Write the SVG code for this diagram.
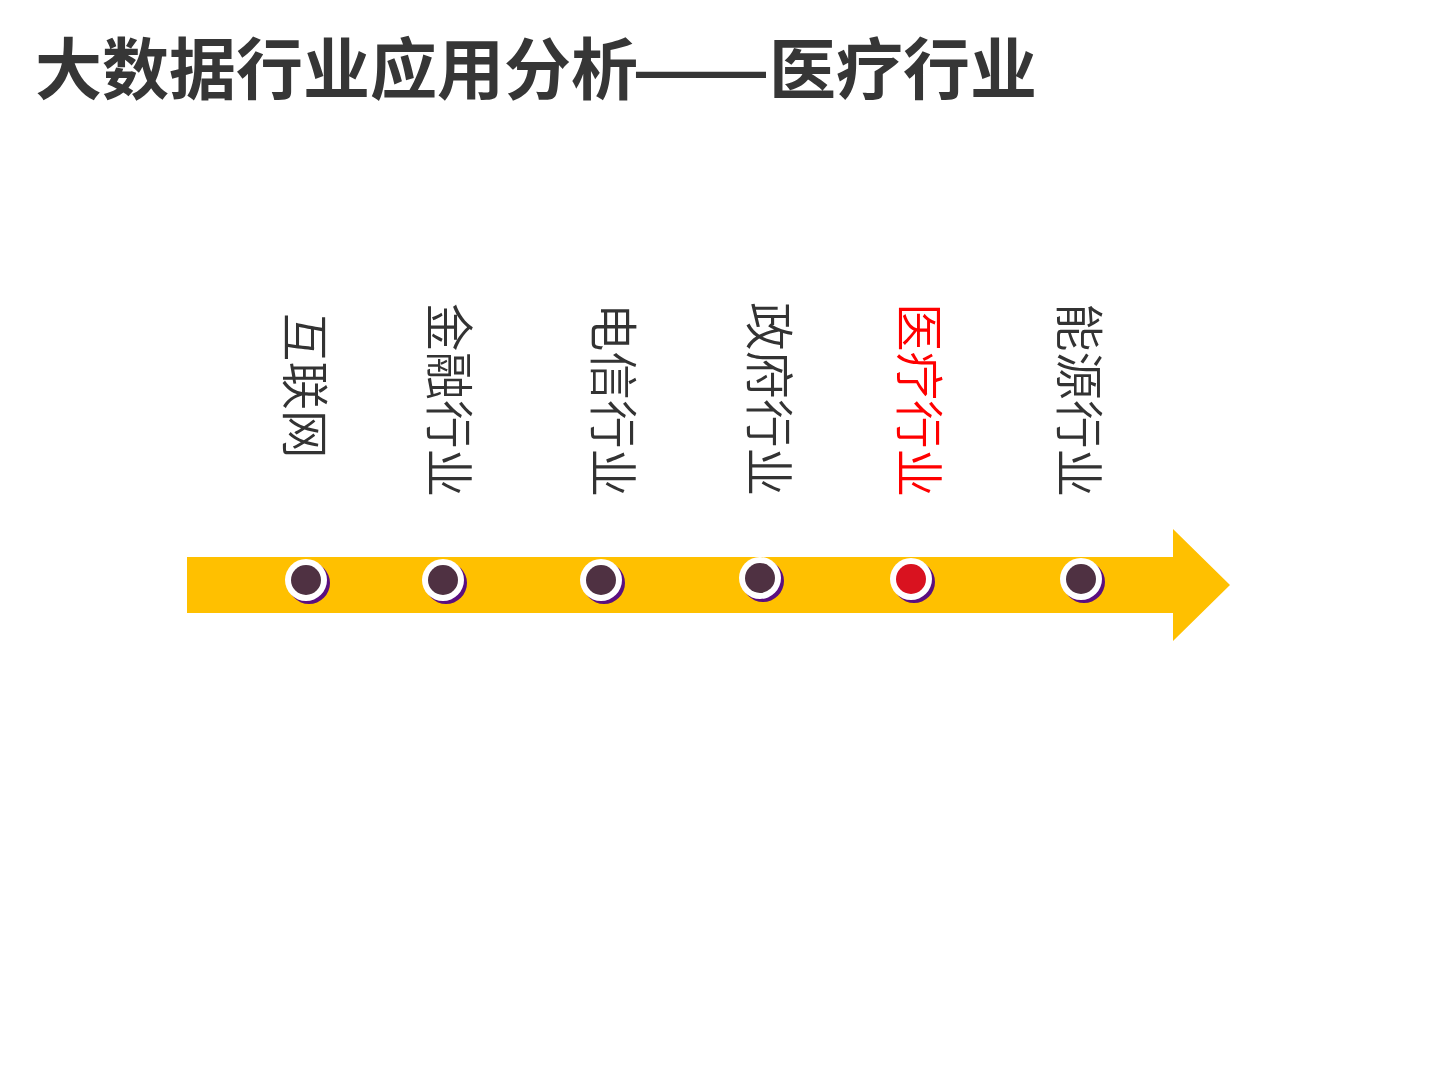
<svg xmlns="http://www.w3.org/2000/svg" width="1440" height="1080" viewBox="0 0 1440 1080">
<style>
.title{font-family:"Noto Sans CJK SC","Noto Sans",sans-serif;font-weight:bold;font-size:67px;fill:#363636}
.lbl{font-family:"Noto Sans CJK SC","Noto Sans",sans-serif;font-weight:350;font-size:48.5px;fill:#333333}
.red{fill:#ff0000}
.shadow{fill:#5a0f80}
.ring{fill:#ffffff}
.dot{fill:#4f3142}
.dotred{fill:#d9121f}
</style>
<defs>
<g id="marker">
<circle class="shadow" cx="3" cy="3" r="21"/>
<circle class="ring" cx="0" cy="0" r="21"/>
</g>
</defs>
<rect width="1440" height="1080" fill="#ffffff"/>
<text class="title" x="35" y="94"><tspan>大数据行业应用分析</tspan><tspan x="632" textLength="138" lengthAdjust="spacingAndGlyphs">——</tspan><tspan x="769">医疗行业</tspan></text>
<g id="connectors">
<path id="timeline-arrow" d="M187,557 L1173,557 L1173,529 L1230,585 L1173,641 L1173,613 L187,613 Z" fill="#ffc000"/>
</g>
<g id="node-internet">
<text class="lbl" transform="translate(287,313) rotate(90)">互联网</text>
<use href="#marker" x="306" y="580"/>
<circle class="dot" cx="306" cy="580" r="15"/>
</g>
<g id="node-finance">
<text class="lbl" transform="translate(431,303) rotate(90)">金融行业</text>
<use href="#marker" x="443" y="580"/>
<circle class="dot" cx="443" cy="580" r="15"/>
</g>
<g id="node-telecom">
<text class="lbl" transform="translate(595,303) rotate(90)">电信行业</text>
<use href="#marker" x="601" y="580"/>
<circle class="dot" cx="601" cy="580" r="15"/>
</g>
<g id="node-government">
<text class="lbl" transform="translate(751,302) rotate(90)">政府行业</text>
<use href="#marker" x="760" y="578"/>
<circle class="dot" cx="760" cy="578" r="15"/>
</g>
<g id="node-medical">
<text class="lbl red" transform="translate(901,303) rotate(90)">医疗行业</text>
<use href="#marker" x="911" y="579"/>
<circle class="dotred" cx="911" cy="579" r="15"/>
</g>
<g id="node-energy">
<text class="lbl" transform="translate(1061,303) rotate(90)">能源行业</text>
<use href="#marker" x="1081" y="579"/>
<circle class="dot" cx="1081" cy="579" r="15"/>
</g>
</svg>
